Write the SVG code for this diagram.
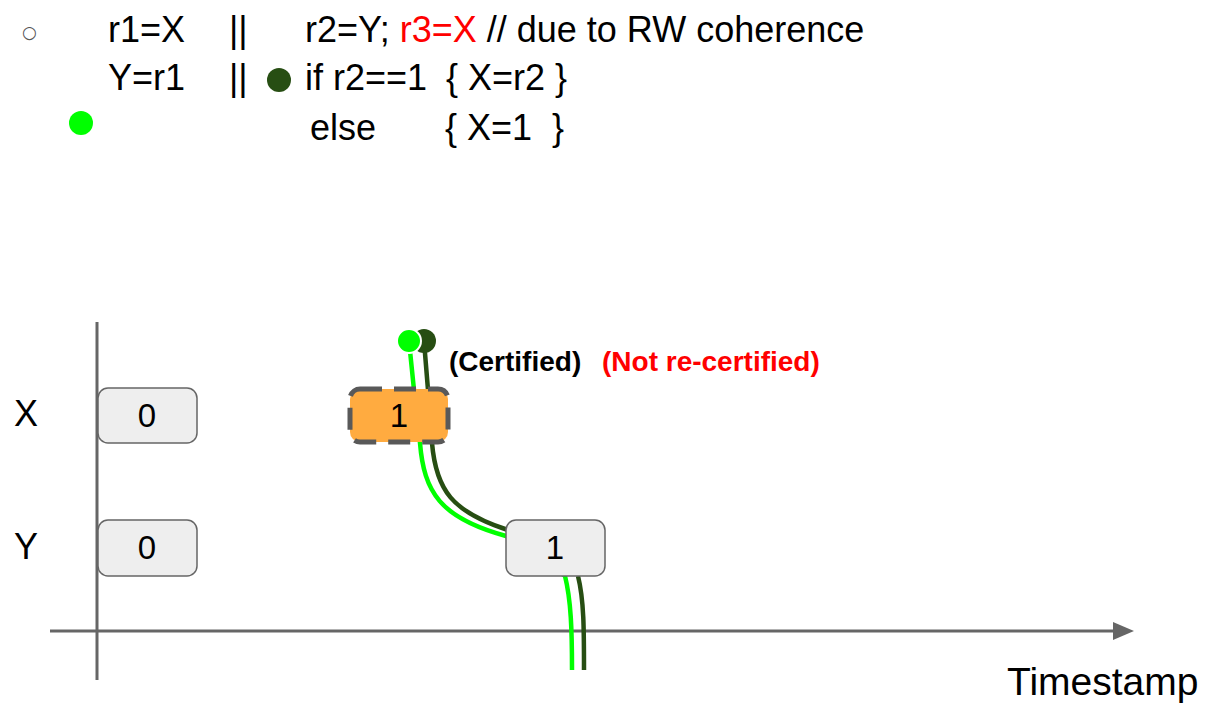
<svg xmlns="http://www.w3.org/2000/svg" width="1216" height="715" viewBox="0 0 1216 715">
<style>
.t{font-family:"Liberation Sans",Arial,sans-serif;font-size:36px;fill:#000}
.red{fill:#ff0000}
.b{font-family:"Liberation Sans",Arial,sans-serif;font-size:28px;font-weight:bold}
.ax{stroke:#666;stroke-width:3;fill:none}
.box{fill:#eeeeee;stroke:#666;stroke-width:1.5}
.num{font-family:"Liberation Sans",Arial,sans-serif;font-size:33px;text-anchor:middle;fill:#000}
.g{stroke:#00ff00;stroke-width:4.5;fill:none}
.dg{stroke:#274e13;stroke-width:4.5;fill:none}
</style>
<defs>
<marker id="arr" markerWidth="8" markerHeight="6" refX="1" refY="3" orient="auto" markerUnits="strokeWidth">
<path d="M0,0 L7,3 L0,6 Z" fill="#666"/>
</marker>
</defs>
<rect width="1216" height="715" fill="#fff"/>
<g id="code">
<text x="22" y="38" style="font-family:'DejaVu Sans',sans-serif;font-size:17px;fill:#555">○</text>
<text class="t" x="108" y="42">r1=X</text>
<text class="t" x="229" y="42">||</text>
<text class="t" x="305" y="42">r2=Y; <tspan class="red">r3=X</tspan> // due to RW coherence</text>
<text class="t" x="108" y="90">Y=r1</text>
<text class="t" x="229" y="90">||</text>
<circle cx="279" cy="80" r="12" fill="#274e13"/>
<text class="t" x="305" y="90">if r2==1</text>
<text class="t" x="446" y="90">{ X=r2 }</text>
<circle cx="81" cy="123" r="12" fill="#00ff00"/>
<text class="t" x="310" y="140">else</text>
<text class="t" x="445" y="140">{ X=1</text>
<text class="t" x="552" y="140">}</text>
</g>
<g id="axes">
<line class="ax" x1="97" y1="322" x2="97" y2="680"/>
<line class="ax" x1="50" y1="631" x2="1116" y2="631" marker-end="url(#arr)"/>
<text class="t" x="1007" y="695" style="font-size:39px">Timestamp</text>
<text class="t" x="14" y="426" style="font-size:36px">X</text>
<text class="t" x="14" y="559" style="font-size:36px">Y</text>
</g>
<g id="connectors">
<path class="g" d="M409,341 L414,390 M414,390 L420,443 C424,492 440,518 506,536 M506,536 L565,576 M565,576 C571,600 572,630 572,670"/>
<path class="dg" d="M424,341 L428,390 L432,443 C436,490 452,512 508,530 M578,576 C584,600 584,630 584,670"/>
</g>
<g id="dots">
<circle cx="424" cy="341" r="12" fill="#274e13"/>
<circle cx="409" cy="341" r="12" fill="#00ff00" stroke="#fff" stroke-width="2"/>
</g>
<g id="x0">
<rect class="box" x="98" y="388" width="99" height="55" rx="10"/>
<text class="num" x="147" y="427">0</text>
</g>
<g id="y0">
<rect class="box" x="98" y="520" width="99" height="56" rx="10"/>
<text class="num" x="147" y="559">0</text>
</g>
<g id="x1">
<rect x="350" y="389" width="98" height="53" rx="10" fill="#ffab40" stroke="#595959" stroke-width="5" stroke-dasharray="22,12"/>
<text class="num" x="399" y="427">1</text>
</g>
<g id="y1">
<rect class="box" x="506" y="520" width="99" height="56" rx="10"/>
<text class="num" x="555" y="559">1</text>
</g>
<g id="labels">
<text class="b" x="449" y="371">(Certified)</text>
<text class="b red" x="602" y="371">(Not re-certified)</text>
</g>
</svg>
